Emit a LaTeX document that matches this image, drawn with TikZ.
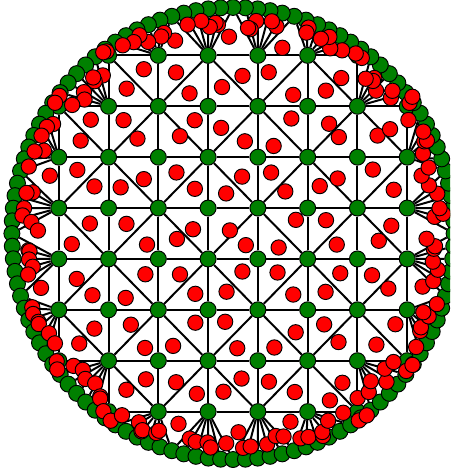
\documentclass[tikz,border=0pt]{standalone}
\usepackage{xcolor}
\usepackage{tikz}
\usetikzlibrary{calc, backgrounds}
\definecolor{meshgreen}{RGB}{0,128,0}
\definecolor{centred}{RGB}{255,0,0}
\tikzset{
  vtx/.style={circle, draw=black, fill=meshgreen, line width=0.8pt, inner sep=0pt, minimum size=0.48cm},
  ctr/.style={circle, draw=black, fill=centred, line width=0.8pt, inner sep=0pt, minimum size=0.46cm},
  ln/.style={line width=1.7pt}
}
% red point near the centroid of a triangle
\newcommand\ctrpt[4]{%
  \pgfmathsetmacro\jx{0.026*rand}\pgfmathsetmacro\jy{0.026*rand}%
  \node[ctr] (#1) at ($0.3333*(#2)+0.3333*(#3)+0.3333*(#4)+(\jx,\jy)$) {};}
% outer grid vertex / next one / first and last boundary vertex of its fan
\newcommand\fanlist{g74/g75/0/5, g75/g76/5/10, g76/g66/10/12, g66/g67/12/16,
  g67/g57/16/18, g57/g47/18/23, g47/g37/23/28, g37/g27/28/33, g27/g17/33/38,
  g17/g16/38/40, g16/g06/40/44, g06/g05/44/46, g05/g04/46/51, g04/g03/51/56,
  g03/g02/56/61, g02/g01/61/66, g01/g11/66/68, g11/g10/68/72, g10/g20/72/74,
  g20/g30/74/79, g30/g40/79/84, g40/g50/84/89, g50/g60/89/94, g60/g61/94/96,
  g61/g71/96/100, g71/g72/100/102, g72/g73/102/107, g73/g74/107/112}

\begin{document}
\begin{tikzpicture}[x=6.72cm, y=6.87cm]
  \useasboundingbox (-6.99cm,-7.035cm) rectangle (6.51cm,7.005cm);
  \clip (-6.99cm,-7.035cm) rectangle (6.51cm,7.005cm);
  \pgfmathsetseed{11}
  % grid vertices, the four corners fall outside the disc
  \foreach \c in {0,...,7}
    \foreach \r in {0,...,7} {
      \pgfmathtruncatemacro\dd{(2*\c-7)*(2*\c-7)+(2*\r-7)*(2*\r-7)}
      \ifnum\dd<81 \node[vtx] (g\c\r) at ({(2*\c-7)/9},{(2*\r-7)/9}) {}; \fi
    }
  % boundary vertices
  \foreach \k in {0,...,111}
    \node[vtx] (b\k) at ({\k*45/14}:0.987) {};

  \begin{scope}[on background layer]
    % horizontal and vertical grid lines
    \foreach \c in {0,...,6} {
      \pgfmathtruncatemacro\cc{\c+1}
      \foreach \r in {0,...,7} {
        \pgfmathtruncatemacro\nope{((\c==0)||(\c==6))&&((\r==0)||(\r==7))}
        \ifnum\nope=0
          \draw[ln] (g\c\r) -- (g\cc\r);
          \draw[ln] (g\r\c) -- (g\r\cc);
        \fi
      }
    }
    % diagonals
    \foreach \c in {0,...,6} {
      \pgfmathtruncatemacro\cc{\c+1}
      \foreach \r in {0,...,6} {
        \pgfmathtruncatemacro\rr{\r+1}
        \pgfmathtruncatemacro\nope{((\c==0)||(\c==6))&&((\r==0)||(\r==6))}
        \pgfmathtruncatemacro\hub{mod(\c+\r,2)}
        \ifnum\nope=0
          \ifnum\hub=0 \draw[ln] (g\c\r) -- (g\cc\rr);
          \else \draw[ln] (g\cc\r) -- (g\c\rr); \fi
        \fi
      }
    }
    % fans out to the boundary
    \foreach \p/\q/\s/\e in \fanlist
      \foreach \k in {\s,...,\e} {
        \pgfmathtruncatemacro\kk{mod(\k,112)}
        \draw[ln] (\p) -- (b\kk);
      }
  \end{scope}

  % red points, inner triangles
  \foreach \c in {0,...,6} {
    \pgfmathtruncatemacro\cc{\c+1}
    \foreach \r in {0,...,6} {
      \pgfmathtruncatemacro\rr{\r+1}
      \pgfmathtruncatemacro\nope{((\c==0)||(\c==6))&&((\r==0)||(\r==6))}
      \pgfmathtruncatemacro\hub{mod(\c+\r,2)}
      \ifnum\nope=0
        \ifnum\hub=0
          \ctrpt{ta\c\r}{g\c\r}{g\cc\r}{g\cc\rr}
          \ctrpt{tb\c\r}{g\c\r}{g\c\rr}{g\cc\rr}
        \else
          \ctrpt{ta\c\r}{g\c\r}{g\cc\r}{g\c\rr}
          \ctrpt{tb\c\r}{g\cc\r}{g\cc\rr}{g\c\rr}
        \fi
      \fi
    }
  }
  % red points, fan triangles
  \foreach \p/\q/\s/\e in \fanlist {
    \pgfmathtruncatemacro\ee{\e-1}
    \foreach \k in {\s,...,\ee} {
      \pgfmathtruncatemacro\ka{mod(\k,112)}
      \pgfmathtruncatemacro\kb{mod(\k+1,112)}
      \ctrpt{f\p\ka}{\p}{b\ka}{b\kb}
    }
    \pgfmathtruncatemacro\ke{mod(\e,112)}
    \ctrpt{h\p}{\p}{\q}{b\ke}
  }
\end{tikzpicture}
\end{document}
